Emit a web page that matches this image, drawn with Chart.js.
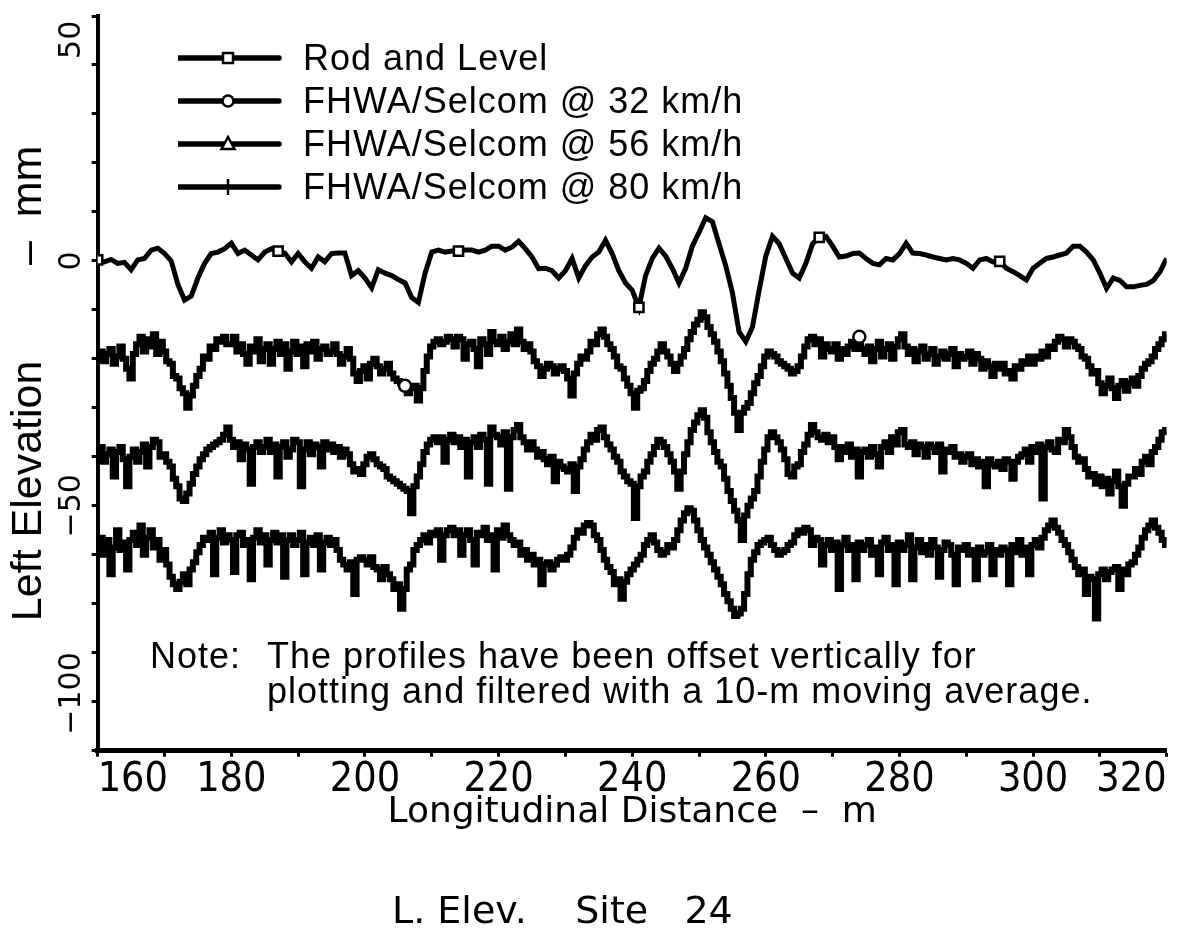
<!DOCTYPE html>
<html>
<head>
<meta charset="utf-8">
<script src="https://cdn.jsdelivr.net/npm/chart.js@4.4.1/dist/chart.umd.min.js"></script>
<style>
html,body{margin:0;padding:0;background:#fff;}
#wrap{position:relative;width:1179px;height:932px;overflow:hidden;background:#fff;}
#c{position:absolute;left:0;top:0;}
.legend{position:absolute;left:178px;top:36px;font-family:"Liberation Sans",Arial,sans-serif;font-size:36px;letter-spacing:1px;color:#000;}
.legend .row{height:43px;display:flex;align-items:center;white-space:nowrap;}
.legend svg{width:125px;height:24px;flex:none;}
.note{position:absolute;top:638px;font-family:"Liberation Sans",Arial,sans-serif;font-size:36px;line-height:35px;letter-spacing:1px;color:#000;white-space:nowrap;}
.sub{position:absolute;left:392px;top:888px;font-family:"DejaVu Sans",sans-serif;font-size:38px;line-height:44px;white-space:pre;color:#000;}
</style>
</head>
<body>
<div id="wrap">
<canvas id="c" width="1179" height="932"></canvas>
<div class="legend" id="legend"></div>
<div class="note" id="noteHead" style="left:150px"></div>
<div class="note" id="noteBody" style="left:267px"></div>
<div class="sub" id="sub"></div>
</div>
<script>
// ---------------- DATA ----------------
const seriesNames = ["Rod and Level", "FHWA/Selcom @ 32 km/h", "FHWA/Selcom @ 56 km/h", "FHWA/Selcom @ 80 km/h"];
const xTitle = "Longitudinal Distance  \u2013  m";
const yTitle = "Left Elevation        \u2013  mm";
const noteHead = "Note:";
const noteLines = ["The profiles have been offset vertically for", "plotting and filtered with a 10-m moving average."];
const subtitle = "L. Elev.    Site   24";

const xTickValues = [160, 180, 200, 220, 240, 260, 280, 300, 320];
const xTickLabels = ["160", "180", "200", "220", "240", "260", "280", "300", "320"];
const yTickValues = [50, 0, -50, -100];
const yTickLabels = ["50", "0", "\u221250", "\u2212100"];

const rodDistance = [160,161,162,163,164,165,166,167,168,169,170,171,172,173,174,175,176,177,178,179,
180,181,182,183,184,185,186,187,188,189,190,191,192,193,194,195,196,197,198,199,
200,201,202,203,204,205,206,207,208,209,210,211,212,213,214,215,216,217,218,219,
220,221,222,223,224,225,226,227,228,229,230,231,232,233,234,235,236,237,238,239,
240,241,242,243,244,245,246,247,248,249,250,251,252,253,254,255,256,257,258,259,
260,261,262,263,264,265,266,267,268,269,270,271,272,273,274,275,276,277,278,279,
280,281,282,283,284,285,286,287,288,289,290,291,292,293,294,295,296,297,298,299,
300,301,302,303,304,305,306,307,308,309,310,311,312,313,314,315,316,317,318,319,320];

const rodLevel = [0.2,-0.2,0.3,-0.5,-0.3,-1.8,0.2,0.5,2.2,2.6,1.5,0,-4.8,-8,-7.2,-3.5,-0.5,1.5,1.8,2.5,
3.6,1.5,2.2,1.2,0.2,1.8,2.5,2.0,1.6,-0.2,1.5,-0.2,-1.5,0.8,-0.2,1.5,1.6,1.6,-3.0,-2.0,
-3.5,-5.5,-1.8,-2.5,-3.0,-3.8,-4.5,-7.5,-8.5,-2.5,1.8,2.2,1.8,2.0,2.0,2.2,2.2,1.8,2.2,3.0,
3.0,2.2,2.8,4.0,2.5,0.8,-1.6,-1.5,-2.0,-3.5,-2.0,0.5,-3.5,-1.0,0.8,1.8,4.2,1.5,-2.0,-4.5,
-6.0,-9.5,-3.0,0.5,2.6,1.0,-1.5,-4.5,-1.5,3.0,5.8,8.8,8.0,3.5,-1.0,-6.5,-14.5,-16.5,-13.5,-6.0,
1.0,5.0,3.5,0.5,-2.5,-3.5,-0.5,3.5,4.8,5.0,3.0,0.8,1.0,1.5,1.6,0.5,-0.5,-0.8,0.5,0.2,
1.5,3.6,1.6,1.5,1.2,0.8,0.5,0.2,0.5,0.2,-0.5,-1.5,0.2,0.5,-0.2,-0.1,-1.5,-2.2,-3.0,-3.9,
-1.5,-0.5,0.5,0.8,1.2,1.6,3.0,3.0,1.8,0.2,-2.5,-5.6,-3.5,-4.0,-5.3,-5.3,-5.0,-4.8,-4.0,-2.2,0.5];

const rodMarkerDistances = [160, 187, 214, 241, 268, 295];
const selcom32MarkerDistances = [206, 274];

const selcomDistance = [160,160.5,161,161.5,162,162.5,163,163.5,164,164.5,165,165.5,166,166.5,167,167.5,168,168.5,169,169.5,
170,170.5,171,171.5,172,172.5,173,173.5,174,174.5,175,175.5,176,176.5,177,177.5,178,178.5,179,179.5,
180,180.5,181,181.5,182,182.5,183,183.5,184,184.5,185,185.5,186,186.5,187,187.5,188,188.5,189,189.5,
190,190.5,191,191.5,192,192.5,193,193.5,194,194.5,195,195.5,196,196.5,197,197.5,198,198.5,199,199.5,
200,200.5,201,201.5,202,202.5,203,203.5,204,204.5,205,205.5,206,206.5,207,207.5,208,208.5,209,209.5,
210,210.5,211,211.5,212,212.5,213,213.5,214,214.5,215,215.5,216,216.5,217,217.5,218,218.5,219,219.5,
220,220.5,221,221.5,222,222.5,223,223.5,224,224.5,225,225.5,226,226.5,227,227.5,228,228.5,229,229.5,
230,230.5,231,231.5,232,232.5,233,233.5,234,234.5,235,235.5,236,236.5,237,237.5,238,238.5,239,239.5,
240,240.5,241,241.5,242,242.5,243,243.5,244,244.5,245,245.5,246,246.5,247,247.5,248,248.5,249,249.5,
250,250.5,251,251.5,252,252.5,253,253.5,254,254.5,255,255.5,256,256.5,257,257.5,258,258.5,259,259.5,
260,260.5,261,261.5,262,262.5,263,263.5,264,264.5,265,265.5,266,266.5,267,267.5,268,268.5,269,269.5,
270,270.5,271,271.5,272,272.5,273,273.5,274,274.5,275,275.5,276,276.5,277,277.5,278,278.5,279,279.5,
280,280.5,281,281.5,282,282.5,283,283.5,284,284.5,285,285.5,286,286.5,287,287.5,288,288.5,289,289.5,
290,290.5,291,291.5,292,292.5,293,293.5,294,294.5,295,295.5,296,296.5,297,297.5,298,298.5,299,299.5,
300,300.5,301,301.5,302,302.5,303,303.5,304,304.5,305,305.5,306,306.5,307,307.5,308,308.5,309,309.5,
310,310.5,311,311.5,312,312.5,313,313.5,314,314.5,315,315.5,316,316.5,317,317.5,318,318.5,319,319.5,320];

const selcom32 = [
-19.5,-18.5,-20.5,-19,-18,-21,-19.5,-17.5,-20,-22,
-24,-19,-17,-15.5,-18.5,-16,-17.5,-15,-19,-16.5,
-18.5,-20.5,-21,-23.5,-24,-26,-27,-30,-27.5,-25.5,
-23.5,-22,-19.5,-20,-17.5,-18,-16,-16.5,-15.5,-17,
-17,-15.5,-18.5,-17,-19,-21,-17.5,-18.5,-16,-20.5,
-18,-17,-21,-18,-16.5,-19,-17,-22,-18.5,-16.5,
-19,-17.5,-21.5,-17,-18.5,-16.5,-20,-18,-17.5,-19,
-18.5,-17,-19,-21,-19.5,-18,-20,-23,-24.5,-22.5,
-21.5,-24,-21,-20,-21.5,-23,-22,-21,-23,-24,
-24.5,-25,-25.5,-27,-26,-25.5,-28.5,-26,-22.5,-19.5,
-17.5,-16.5,-16,-17,-16.5,-15.5,-16,-17.5,-15.5,-16,
-20,-17,-16.5,-18,-21.5,-16,-17,-19,-14.5,-16.5,
-17,-15.5,-18,-16.5,-15,-17,-14,-16.5,-18,-17,
-18.5,-20.5,-21.5,-23.5,-22,-21,-21.5,-23,-22,-21.5,
-22.5,-24,-27.5,-23,-21,-19.5,-20,-18.5,-16.5,-17,
-15,-14,-15.5,-17,-18,-19.5,-21.5,-22,-24,-25.5,
-27,-30,-26.5,-26,-24.5,-22.5,-21,-20,-18.5,-17,
-18.5,-19.5,-21,-22.5,-21,-19.5,-18,-16,-14.5,-13,
-12,-10.5,-11.5,-13.5,-15,-16.5,-18.5,-20.5,-23,-25.5,
-28,-31,-34.5,-31,-30,-29,-27,-25,-23.5,-21.5,
-19.5,-18.5,-19,-19.5,-20.5,-21,-21.5,-22,-23,-22.5,
-21.5,-19.5,-17.5,-16,-15.5,-17,-16,-19.5,-17,-18,
-18.5,-17,-20,-18,-19,-17.5,-16.5,-18,-15.5,-18,
-19,-17.5,-20.5,-18,-16.5,-19.5,-18,-17,-20,-17.5,
-16,-15,-17.5,-19,-18,-20.5,-18.5,-17.5,-20,-19,
-18,-21,-19.5,-18.5,-20,-19,-18,-21.5,-19,-20,
-19.5,-18.5,-21,-19,-20,-22,-20.5,-21.5,-23.5,-21,
-22,-21,-23,-22.5,-24,-21.5,-22,-20.5,-21,-19.5,
-21,-19.5,-20,-18.5,-19.5,-17.5,-18,-16.5,-15.5,-16,
-17.5,-16,-16.5,-17.5,-18,-19.5,-20,-21.5,-23,-22.5,
-25,-27,-25.5,-24,-26,-28,-25.5,-24.5,-26.5,-25,
-24,-25.5,-23.5,-22,-21,-20.5,-19.5,-18,-17,-16,
-15];

const selcom56 = [
-39,-38,-41,-39.5,-38.5,-44,-39,-38,-40.5,-46,
-40,-38.5,-41,-39,-37.5,-42,-38,-36.5,-37,-40,
-39.5,-41,-42,-44.5,-46,-48.5,-49,-47.5,-45.5,-43.5,
-42,-40.5,-39.5,-38.5,-38,-37.5,-37,-36.5,-35.5,-34,
-36.5,-38,-37,-40.5,-37.5,-38.5,-45.5,-38,-37,-39,
-38,-36.5,-39,-37.5,-44,-38,-37,-40,-38.5,-36.5,
-37,-46,-38.5,-37,-39.5,-37.5,-38,-42,-37,-38.5,
-37.5,-39,-38,-40,-38.5,-39.5,-41.5,-43,-42.5,-43.5,
-41.5,-40,-39.5,-40.5,-41.5,-42,-42.5,-44,-44.5,-45,
-45.5,-46,-46.5,-47,-51.5,-46,-44,-41.5,-39,-37.5,
-36.5,-36,-37,-36,-41,-36.5,-35.5,-37,-36,-38,
-36.5,-44,-37,-36,-38,-35.5,-36.5,-45.5,-34,-35.5,
-36,-37.5,-35,-46.5,-36,-34.5,-33.5,-36,-37,-38.5,
-37,-38.5,-40,-39,-40.5,-41.5,-40,-45,-41,-42,
-42.5,-43,-41.5,-47,-42,-40.5,-38.5,-37,-35.5,-36.5,
-34.5,-34,-36,-37.5,-38.5,-40,-41,-43,-44,-45,
-45.5,-52.5,-46,-44,-43,-41,-39.5,-38,-36.5,-37,
-38,-39.5,-41,-43,-46.5,-43,-39.5,-37,-34.5,-33,
-31.5,-30.5,-32,-35,-37,-39,-41,-42,-44.5,-47,
-49,-51,-53,-57,-52,-50,-48.5,-47,-44,-41,
-38.5,-36,-35,-36,-37,-38.5,-40.5,-43.5,-44,-42,
-41.5,-39,-37.5,-35.5,-33.5,-35,-36,-36.5,-35.5,-37,
-36,-38,-40.5,-38,-39,-37.5,-40,-38.5,-44,-39,
-38.5,-40,-38,-39.5,-42,-38,-37,-39,-36,-37.5,
-35,-34.5,-37.5,-38,-37,-39.5,-37.5,-38,-40,-37.5,
-38,-39,-37.5,-43,-38.5,-39,-38,-40,-39.5,-41,
-40,-39.5,-41.5,-40.5,-42,-41,-46,-40.5,-41.5,-42,
-41,-42.5,-40.5,-41,-44.5,-41,-40,-39.5,-38.5,-41,
-38,-39,-37.5,-48.5,-38,-37,-38.5,-39,-36.5,-37,
-34.5,-36,-38,-40,-41,-40.5,-42.5,-44,-43.5,-45.5,
-44,-46,-44.5,-47.5,-45,-43,-46,-50,-45.5,-44,
-44,-42.5,-43.5,-41,-40,-41.5,-39,-38,-36.5,-35,
-34.5];

const selcom80 = [
-58,-56.5,-60,-57,-64,-58.5,-55,-59,-57.5,-63,
-57,-55.5,-58,-54,-60,-56.5,-55,-58.5,-57,-61,
-59,-62,-64.5,-66,-67,-65.5,-64,-66,-63,-61.5,
-59.5,-58,-56.5,-57,-55.5,-64,-56.5,-55,-57.5,-56,
-57,-63.5,-56,-55.5,-58,-57,-65,-56.5,-55,-57.5,
-56,-62,-57,-55.5,-57.5,-56,-64.5,-57,-56,-58,
-57,-55.5,-64,-57.5,-56.5,-58,-56,-63,-57.5,-56.5,
-58,-57,-59,-61,-62,-63,-61.5,-68,-61,-60.5,
-61,-62,-60.5,-62.5,-63,-65,-62.5,-64,-65,-67,
-66,-71,-67,-63,-62,-59,-58,-57,-56,-57.5,
-55.5,-56,-55,-61,-56,-55,-54.5,-56,-55,-60,
-56,-55,-57,-62,-55.5,-56,-54.5,-57,-56,-63,
-55,-56.5,-54,-56,-57,-58,-57.5,-60,-59,-61,
-60,-62,-61,-66,-62,-61.5,-63,-62,-61,-60.5,
-61,-60,-58.5,-56.5,-55,-55.5,-54,-53.5,-54,-56,
-57,-59,-61,-62.5,-63.5,-66,-65,-69,-65.5,-64,
-63,-62,-61,-60,-58,-57,-56,-57.5,-59,-60,
-59.5,-58,-58.5,-57,-55,-53,-51.5,-50.5,-51,-53,
-55,-57,-58.5,-60,-61.5,-63,-64.5,-66,-68,-69.5,
-71,-72.5,-72,-71,-68,-64,-61,-59.5,-58,-57.5,
-57,-56.5,-58,-59,-60,-59.5,-59,-58,-57.5,-56,
-55,-55.5,-54.5,-55,-58,-56.5,-57,-62,-58,-57,
-59,-57.5,-67,-58,-56.5,-59,-58,-65,-57.5,-59,
-58,-57,-60,-58.5,-64,-57.5,-56.5,-59,-58,-66,
-57.5,-59,-58,-56,-65,-58.5,-57,-59.5,-58,-60,
-57,-58.5,-64.5,-59,-57.5,-58,-60,-66,-58.5,-59,
-58,-60,-59,-65,-58.5,-60,-59.5,-58,-64,-59,
-60,-58.5,-59,-66,-58,-59.5,-57,-60,-58.5,-64,
-58,-57,-58.5,-56.5,-55,-54,-53,-54.5,-55.5,-57,
-58,-59.5,-61,-62.5,-64,-63,-68,-64.5,-65,-73,
-64,-63,-65,-63.5,-63,-62.5,-67,-63,-64,-62,
-61.5,-60,-58.5,-56.5,-55,-54,-53,-54.5,-55.5,-57,
-58];

// ---------------- LAYOUT / STYLE ----------------
const INK = '#000';
const AREA = {left: 97.7, right: 1166.7, top: 16, bottom: 750.7};
const CW = 1179, CH = 932;
const xTickFont = {family: 'Liberation Sans Narrow, DejaVu Sans Condensed, sans-serif', size: 41};
const yTickFont = {family: 'DejaVu Sans', size: 30};
// label shifts (spaces) to mimic the original end-label placement
const xLead = {160: 6};
const xTrail = {320: 6};
const yLead = {'-100': 12};
const yTrail = {'50': 5};
const TICK_LEN = 6;

function xLabel(v) {
  const i = xTickValues.indexOf(v);
  if (i < 0) return '';
  return ' '.repeat(xLead[v] || 0) + xTickLabels[i] + ' '.repeat(xTrail[v] || 0);
}
function yLabel(v) {
  const i = yTickValues.indexOf(v);
  if (i < 0) return '';
  return ' '.repeat(yLead[String(v)] || 0) + yTickLabels[i] + ' '.repeat(yTrail[String(v)] || 0);
}

// compute y tick padding so label centres sit at x≈72.5
const mctx = document.createElement('canvas').getContext('2d');
mctx.font = yTickFont.size + 'px ' + yTickFont.family;
let widest = 0;
yTickValues.forEach(v => { widest = Math.max(widest, mctx.measureText(yLabel(v)).width); });
const yPad = AREA.left - TICK_LEN - 72.5 - widest / 2;

function pairs(xs, ys) { return xs.map((x, i) => ({x: x, y: ys[i]})); }

const datasets = [
  {
    label: seriesNames[0],
    data: pairs(rodDistance, rodLevel),
    borderColor: INK, borderWidth: 5, tension: 0,
    pointStyle: 'rect',
    pointRadius: c => (c.raw && rodMarkerDistances.includes(c.raw.x)) ? 6.5 : 0,
    pointBackgroundColor: '#fff', pointBorderColor: INK, pointBorderWidth: 2.5,
    order: 0
  },
  {
    label: seriesNames[1],
    data: pairs(selcomDistance, selcom32),
    borderColor: INK, borderWidth: 6, stepped: 'middle',
    pointStyle: 'circle',
    pointRadius: c => (c.raw && selcom32MarkerDistances.includes(c.raw.x)) ? 6 : 0,
    pointBackgroundColor: '#fff', pointBorderColor: INK, pointBorderWidth: 2.5,
    order: 1
  },
  {
    label: seriesNames[2],
    data: pairs(selcomDistance, selcom56),
    borderColor: INK, borderWidth: 6, stepped: 'middle', pointRadius: 0,
    order: 2
  },
  {
    label: seriesNames[3],
    data: pairs(selcomDistance, selcom80),
    borderColor: INK, borderWidth: 6, stepped: 'middle', pointRadius: 0,
    order: 3
  }
];

new Chart(document.getElementById('c'), {
  type: 'line',
  data: {datasets: datasets},
  options: {
    responsive: false,
    animation: false,
    devicePixelRatio: 1,
    layout: {padding: {left: 0, right: CW - AREA.right, top: AREA.top, bottom: 0}},
    plugins: {legend: {display: false}, tooltip: {enabled: false}},
    elements: {line: {borderCapStyle: 'butt', borderJoinStyle: 'miter'}},
    scales: {
      x: {
        type: 'linear', min: 160, max: 320,
        border: {display: true, color: INK, width: 5},
        grid: {display: true, drawOnChartArea: false, drawTicks: true, tickLength: TICK_LEN, tickWidth: 3, tickColor: INK},
        ticks: {stepSize: 10, autoSkip: false, maxRotation: 0, minRotation: 0, padding: -1, color: INK,
                font: xTickFont, callback: v => xLabel(v)},
        title: {display: true, text: xTitle, color: INK,
                font: {family: 'DejaVu Sans', size: 36}, padding: {top: 0, bottom: 98}},
        afterFit: s => { s.height = CH - AREA.bottom; s.paddingLeft = 0; s.paddingRight = 0; }
      },
      y: {
        type: 'linear', min: -100, max: 50,
        border: {display: true, color: INK, width: 4},
        grid: {display: true, drawOnChartArea: false, drawTicks: true, tickLength: TICK_LEN, tickWidth: 3, tickColor: INK},
        ticks: {stepSize: 10, autoSkip: false, minRotation: 90, maxRotation: 90, crossAlign: 'center',
                padding: yPad, color: INK, font: yTickFont, callback: v => yLabel(v)},
        title: {display: true, text: yTitle, color: INK,
                font: {family: 'Liberation Sans', size: 43}, padding: {top: 3, bottom: 0}},
        afterFit: s => { s.width = AREA.left; s.paddingTop = 0; s.paddingBottom = 0; }
      }
    }
  }
});

// ---------------- HTML legend / notes ----------------
const markerSvg = [
  '<rect x="45" y="7" width="10" height="10" fill="#fff" stroke="#000" stroke-width="2.5"/>',
  '<circle cx="50" cy="12" r="5.5" fill="#fff" stroke="#000" stroke-width="2.5"/>',
  '<polygon points="50,5 56.5,17 43.5,17" fill="#fff" stroke="#000" stroke-width="2.5"/>',
  '<line x1="50" y1="4" x2="50" y2="20" stroke="#000" stroke-width="2.5"/>'
];
const lg = document.getElementById('legend');
seriesNames.forEach((name, i) => {
  const row = document.createElement('div');
  row.className = 'row';
  row.innerHTML = '<svg viewBox="0 0 125 24"><line x1="1" y1="12" x2="101" y2="12" stroke="#000" stroke-width="5.5" stroke-linecap="round"/>' +
    markerSvg[i] + '</svg>';
  const t = document.createElement('span');
  t.textContent = name;
  row.appendChild(t);
  lg.appendChild(row);
});
document.getElementById('noteHead').textContent = noteHead;
document.getElementById('noteBody').innerHTML = noteLines.map(l => '<div>' + l + '</div>').join('');
document.getElementById('sub').textContent = subtitle;
</script>
</body>
</html>
